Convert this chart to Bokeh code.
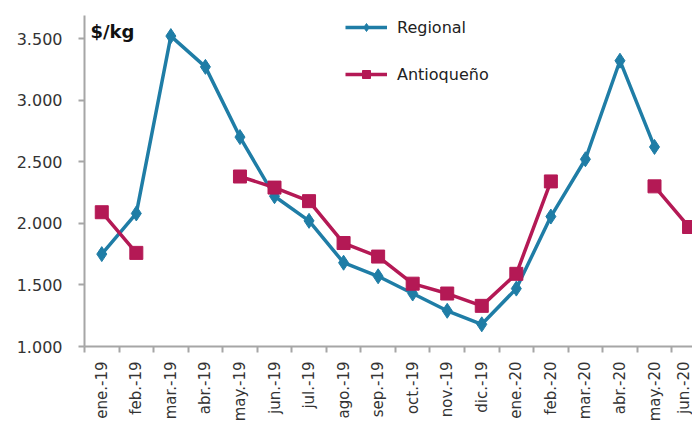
import math
from bokeh.plotting import figure
from bokeh.models import (ColumnDataSource, FixedTicker, CustomJSTickFormatter,
                          Legend, LegendItem, Label, Range1d)
from bokeh.embed import file_html
from bokeh.resources import INLINE

NaN = float("nan")

months = ["ene.-19", "feb.-19", "mar.-19", "abr.-19", "may.-19", "jun.-19",
          "jul.-19", "ago.-19", "sep.-19", "oct.-19", "nov.-19", "dic.-19",
          "ene.-20", "feb.-20", "mar.-20", "abr.-20", "may.-20", "jun.-20"]
regional = [1750, 2080, 3520, 3270, 2700, 2220, 2020, 1680, 1570, 1430,
            1290, 1180, 1470, 2055, 2520, 3320, 2620, NaN]
antioqueno = [2090, 1760, NaN, NaN, 2380, 2290, 2180, 1840, 1730, 1510,
              1430, 1330, 1590, 2340, NaN, NaN, 2300, 1970]
y_ticks = [1000, 1500, 2000, 2500, 3000, 3500]

BLUE = "#1f7da6"
MAG = "#b41955"
AXIS = "#a6a6a6"
FONT = "DejaVu Sans"

idx = list(range(len(months)))
src = ColumnDataSource(dict(x=idx, reg=regional, ant=antioqueno))

p = figure(width=692, height=425, output_backend="svg", toolbar_location=None,
           x_range=Range1d(-0.5, len(months) - 0.9), y_range=Range1d(1000, 3687),
           min_border_left=84, min_border_right=0, min_border_top=15,
           min_border_bottom=79)
p.outline_line_color = None
p.grid.visible = False
p.background_fill_color = "white"
p.border_fill_color = "white"

r1 = p.line("x", "reg", source=src, line_color=BLUE, line_width=3.5)
s1 = p.scatter("x", "reg", source=src, marker="diamond", size=15,
               fill_color=BLUE, line_color=BLUE)
r2 = p.line("x", "ant", source=src, line_color=MAG, line_width=3.5)
s2 = p.scatter("x", "ant", source=src, marker="square", size=13,
               fill_color=MAG, line_color=MAG)

# y axis
p.yaxis.ticker = FixedTicker(ticks=y_ticks)
p.yaxis.formatter = CustomJSTickFormatter(
    code="return tick.toFixed(0).replace(/\\B(?=(\\d{3})+(?!\\d))/g, '.');")
p.yaxis.axis_line_color = AXIS
p.yaxis.axis_line_width = 2
p.yaxis.major_tick_line_color = AXIS
p.yaxis.major_tick_line_width = 2
p.yaxis.major_tick_out = 6
p.yaxis.major_tick_in = 0
p.yaxis.minor_tick_line_color = None
p.yaxis.major_label_text_font = FONT
p.yaxis.major_label_text_font_size = "16px"
p.yaxis.major_label_text_color = "#333333"
p.yaxis.major_label_standoff = 16

# x axis: labels at centres, ticks at category boundaries
bounds = [i - 0.5 for i in idx] + [len(months) - 0.5]
p.xaxis.ticker = FixedTicker(ticks=idx, minor_ticks=bounds)
p.xaxis.major_label_overrides = {i: m for i, m in enumerate(months)}
p.xaxis.major_label_orientation = math.pi / 2
p.xaxis.axis_line_color = AXIS
p.xaxis.axis_line_width = 2
p.xaxis.major_tick_line_color = None
p.xaxis.minor_tick_line_color = AXIS
p.xaxis.minor_tick_line_width = 2
p.xaxis.minor_tick_out = 6
p.xaxis.minor_tick_in = 0
p.xaxis.major_label_text_font = FONT
p.xaxis.major_label_text_font_size = "15px"
p.xaxis.major_label_text_color = "#333333"
p.xaxis.major_label_standoff = 9

unit = Label(x=6, y=305, x_units="screen", y_units="screen", text="$/kg",
             text_font=FONT, text_font_size="18px", text_font_style="bold",
             text_color="#111111")
p.add_layout(unit)

legend = Legend(items=[LegendItem(label="Regional", renderers=[r1, s1]),
                       LegendItem(label="Antioqueño", renderers=[r2, s2])],
                location=(261, 262), orientation="vertical",
                glyph_width=42, glyph_height=20, label_height=20,
                spacing=27, padding=0, margin=0, label_standoff=10,
                label_text_font=FONT, label_text_font_size="16px",
                label_text_color="#222222", border_line_color=None,
                background_fill_alpha=0)
p.add_layout(legend, "center")

open("out.html", "w").write(file_html(p, INLINE))
